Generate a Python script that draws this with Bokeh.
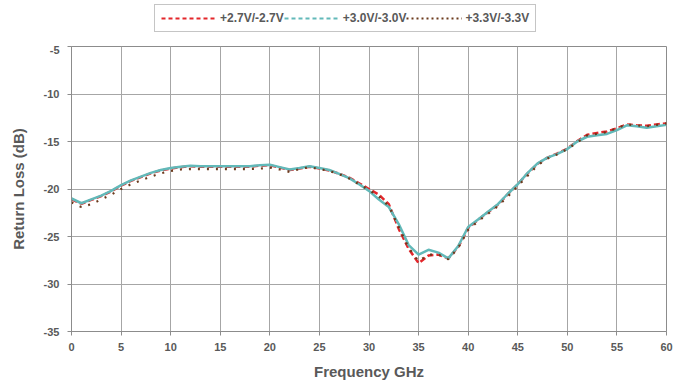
from bokeh.plotting import figure
from bokeh.layouts import column
from bokeh.models import Range1d, FixedTicker, Legend, LegendItem, ColumnDataSource
from bokeh.embed import file_html
from bokeh.resources import INLINE

freq = list(range(0, 61))

rl_27 = [-21.1, -21.55, -21.15, -20.75, -20.25, -19.65, -19.15, -18.75, -18.35, -18.05,
         -17.85, -17.7, -17.6, -17.65, -17.65, -17.65, -17.65, -17.65, -17.65, -17.55,
         -17.5, -17.75, -18.0, -17.85, -17.65, -17.85, -18.05, -18.4, -18.8, -19.4,
         -20.0, -20.6, -21.6, -24.2, -26.3, -27.8, -27.0, -26.9, -27.3, -26.1,
         -24.1, -23.25, -22.45, -21.65, -20.55, -19.5, -18.35, -17.35, -16.7, -16.25,
         -15.75, -14.95, -14.3, -14.1, -13.95, -13.6, -13.2, -13.3, -13.35, -13.2, -13.1]

rl_30 = [-21.0, -21.5, -21.1, -20.7, -20.2, -19.6, -19.1, -18.7, -18.3, -18.0,
         -17.8, -17.65, -17.55, -17.6, -17.6, -17.6, -17.6, -17.6, -17.6, -17.5,
         -17.45, -17.7, -17.95, -17.8, -17.6, -17.8, -18.0, -18.4, -18.85, -19.5,
         -20.2, -21.1, -21.9, -23.7, -25.9, -26.9, -26.4, -26.7, -27.3, -26.0,
         -24.0, -23.2, -22.4, -21.6, -20.5, -19.5, -18.3, -17.3, -16.7, -16.3,
         -15.8, -15.0, -14.5, -14.35, -14.2, -13.8, -13.3, -13.4, -13.55, -13.4, -13.25]

rl_33 = [-21.4, -21.9, -21.6, -21.1, -20.6, -20.0, -19.5, -19.1, -18.7, -18.35,
         -18.1, -17.95, -17.9, -17.9, -17.9, -17.9, -17.9, -17.9, -17.9, -17.85,
         -17.75, -17.95, -18.2, -17.9, -17.7, -17.9, -18.1, -18.45, -18.9, -19.5,
         -20.1, -20.8, -21.8, -24.0, -26.2, -27.6, -26.9, -26.9, -27.4, -26.2,
         -24.3, -23.4, -22.6, -21.8, -20.8, -19.7, -18.6, -17.5, -16.8, -16.35,
         -15.8, -15.1, -14.35, -14.2, -14.0, -13.6, -13.2, -13.3, -13.4, -13.25, -13.1]

series_labels = ["+2.7V/-2.7V", "+3.0V/-3.0V", "+3.3V/-3.3V"]
x_ticks = list(range(0, 61, 5))
y_ticks = list(range(-35, -4, 5))
y_tick_labels = {t: str(t) for t in y_ticks}

RED = "#e3262b"
CYAN = "#62b9b9"
BROWN = "#6b3a1c"
TXT = "#595959"
FONT = "Liberation Sans"

# ---- legend strip (top) ----
top = figure(width=682, height=45, output_backend="svg", toolbar_location=None,
             x_axis_type=None, y_axis_type=None,
             x_range=Range1d(0, 682), y_range=Range1d(0, 45),
             min_border_left=0, min_border_right=0, min_border_top=0, min_border_bottom=0)
top.outline_line_color = None
top.grid.visible = False
nan = float("nan")
dummy = ColumnDataSource(dict(f=[nan], v=[nan]))
l1 = top.line("f", "v", source=dummy, line_color=RED, line_width=2, line_dash="4 3")
l2 = top.line("f", "v", source=dummy, line_color=CYAN, line_width=2, line_dash="4 3")
l3 = top.line("f", "v", source=dummy, line_color=BROWN, line_width=2, line_dash="2 3")
legend = Legend(items=[LegendItem(label=series_labels[0], renderers=[l1]),
                       LegendItem(label=series_labels[1], renderers=[l2]),
                       LegendItem(label=series_labels[2], renderers=[l3])],
                orientation="horizontal", location=(83, 13))
legend.label_text_font = FONT
legend.label_text_font_style = "bold"
legend.label_text_font_size = "12px"
legend.label_text_color = TXT
legend.glyph_width = 56
legend.glyph_height = 12
legend.label_standoff = 3
legend.spacing = 0
legend.padding = 6
legend.margin = 0
legend.border_line_color = "#8c8c8c"
legend.border_line_width = 1
legend.background_fill_color = "white"
top.add_layout(legend, "center")

# ---- main chart ----
p = figure(width=682, height=340, output_backend="svg", toolbar_location=None,
           x_range=Range1d(0, 60), y_range=Range1d(-35, -5),
           min_border_left=71, min_border_right=16, min_border_top=1, min_border_bottom=54)
p.background_fill_color = "white"
p.border_fill_color = "white"
p.outline_line_color = "#8c8c8c"
p.outline_line_width = 1

p.xaxis.ticker = FixedTicker(ticks=x_ticks)
p.yaxis.ticker = FixedTicker(ticks=y_ticks)
p.yaxis.major_label_overrides = y_tick_labels
for ax in (p.xaxis[0], p.yaxis[0]):
    ax.axis_line_color = "#8c8c8c"
    ax.major_tick_line_color = "#8c8c8c"
    ax.major_tick_out = 4
    ax.major_tick_in = 0
    ax.minor_tick_line_color = None
    ax.major_label_text_font = FONT
    ax.major_label_text_font_style = "bold"
    ax.major_label_text_font_size = "11px"
    ax.major_label_text_color = TXT
    ax.axis_label_text_font = FONT
    ax.axis_label_text_font_style = "bold"
    ax.axis_label_text_font_size = "15px"
    ax.axis_label_text_color = TXT
p.xaxis.axis_label = "Frequency GHz"
p.yaxis.axis_label = "Return Loss (dB)"
p.xaxis.major_label_standoff = 7
p.yaxis.major_label_standoff = 8
p.xaxis.axis_label_standoff = 9
p.yaxis.axis_label_standoff = 14

p.grid.grid_line_color = "#a6a6a6"
p.grid.grid_line_width = 1
p.xgrid.ticker = FixedTicker(ticks=x_ticks)
p.ygrid.ticker = FixedTicker(ticks=y_ticks)

src = ColumnDataSource(dict(f=freq, a=rl_27, b=rl_30, c=rl_33))
p.line("f", "a", source=src, line_color=RED, line_width=2.5, line_dash="6 3")
p.line("f", "b", source=src, line_color=CYAN, line_width=2.5)
p.line("f", "c", source=src, line_color=BROWN, line_width=2.2, line_dash="2 7")

layout = column(top, p, spacing=0)
open("out.html", "w").write(file_html(layout, INLINE))
